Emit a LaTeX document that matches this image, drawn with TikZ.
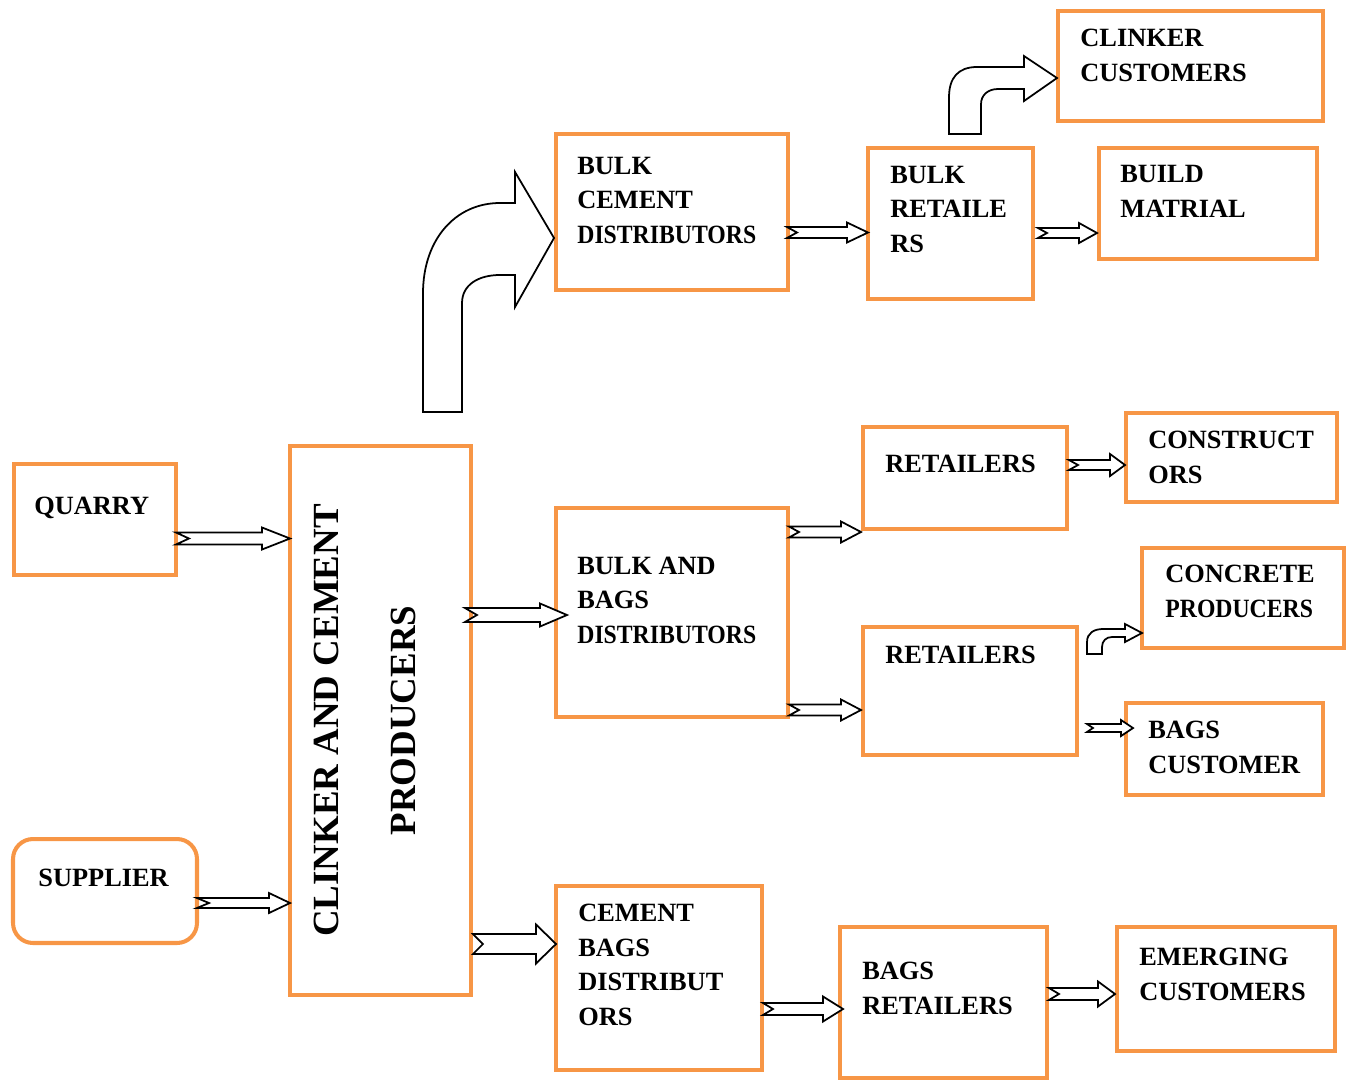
\documentclass[tikz,border=0pt]{standalone}
\usepackage{fontspec}
\usepackage{graphicx}
\setmainfont{Liberation Serif}
\usetikzlibrary{positioning,calc}
\definecolor{BoxOrange}{HTML}{F79646}
\newcommand{\pxu}{0.569pt}
\newcommand{\squeezed}[1]{\scalebox{0.9}[1]{#1}}
% notched block arrow: from, to, shaft half, head half, head length, notch (px)
\newcommand{\notcharrow}[6]{%
  \draw[blockarr] let \p1=(#1), \p2=(#2) in
    (\x1,\y1+#3*\pxu) -- (\x2-#5*\pxu,\y1+#3*\pxu) -- (\x2-#5*\pxu,\y1+#4*\pxu)
    -- (\x2,\y1) -- (\x2-#5*\pxu,\y1-#4*\pxu) -- (\x2-#5*\pxu,\y1-#3*\pxu)
    -- (\x1,\y1-#3*\pxu) -- (\x1+#6*\pxu,\y1) -- cycle;}

\begin{document}
\begin{tikzpicture}[x=0.02cm, y=-0.02cm,
  flowbox/.style={rectangle, draw=BoxOrange, line width=2.3pt, inner sep=0pt, outer sep=0pt},
  boxtext/.style={anchor=base west, inner sep=0pt, align=left,
    font=\fontsize{15}{19.6}\selectfont\bfseries},
  blockarr/.style={draw=black, fill=white, line width=1pt, line join=miter},
]
\useasboundingbox (0,0) rectangle (1348,1082);
% Inputs
\node[flowbox, minimum width=3.24cm, minimum height=2.22cm] (quarry) at (95,519.5) {};
\node[boxtext] (quarry-t) at ([shift={(20,50)}]quarry.north west) {QUARRY};
\node[flowbox, rounded corners=0.4cm, minimum width=3.68cm, minimum height=2.08cm] (supplier) at (105,891) {};
\node[boxtext] (supplier-t) at ([shift={(25,47)}]supplier.north west) {SUPPLIER};
% Producers
\node[flowbox, minimum width=3.62cm, minimum height=10.98cm] (prod) at (380.5,720.5) {};
\node[rotate=90, align=center, inner sep=0pt, font=\fontsize{21}{43.8}\selectfont\bfseries]
  (prod-t) at ([shift={(-16,0)}]prod.center) {CLINKER AND CEMENT\\PRODUCERS};
% Distributors
\node[flowbox, minimum width=4.64cm, minimum height=3.12cm] (bcd) at (672,212) {};
\node[boxtext] (bcd-t) at ([shift={(21,109)}]bcd.north west) {BULK\\CEMENT\\\squeezed{DISTRIBUTORS}};
\node[flowbox, minimum width=4.64cm, minimum height=4.18cm] (bbd) at (672,612.5) {};
\node[boxtext] (bbd-t) at ([shift={(21,135)}]bbd.north west) {BULK AND\\BAGS\\\squeezed{DISTRIBUTORS}};
\node[flowbox, minimum width=4.12cm, minimum height=3.68cm] (cbd) at (659,978) {};
\node[boxtext] (cbd-t) at ([shift={(22,139)}]cbd.north west) {CEMENT\\BAGS\\DISTRIBUT\\ORS};
% Retailers
\node[flowbox, minimum width=3.30cm, minimum height=3.02cm] (bret) at (950.5,223.5) {};
\node[boxtext] (bret-t) at ([shift={(22,104)}]bret.north west) {BULK\\RETAILE\\RS};
\node[flowbox, minimum width=4.08cm, minimum height=2.04cm] (ret1) at (965,478) {};
\node[boxtext] (ret1-t) at ([shift={(22,45)}]ret1.north west) {RETAILERS};
\node[flowbox, minimum width=4.28cm, minimum height=2.56cm] (ret2) at (970,691) {};
\node[boxtext] (ret2-t) at ([shift={(22,36)}]ret2.north west) {RETAILERS};
\node[flowbox, minimum width=4.14cm, minimum height=3.02cm] (bagr) at (943.5,1002.5) {};
\node[boxtext] (bagr-t) at ([shift={(22,87)}]bagr.north west) {BAGS\\RETAILERS};
% Customers
\node[flowbox, minimum width=5.30cm, minimum height=2.20cm] (clink) at (1190.5,66) {};
\node[boxtext] (clink-t) at ([shift={(22,70)}]clink.north west) {CLINKER\\CUSTOMERS};
\node[flowbox, minimum width=4.36cm, minimum height=2.22cm] (build) at (1208,203.5) {};
\node[boxtext] (build-t) at ([shift={(21,69)}]build.north west) {BUILD\\MATRIAL};
\node[flowbox, minimum width=4.22cm, minimum height=1.78cm] (constr) at (1231.5,457.5) {};
\node[boxtext] (constr-t) at ([shift={(22,70)}]constr.north west) {CONSTRUCT\\ORS};
\node[flowbox, minimum width=4.04cm, minimum height=2.00cm] (concr) at (1243,598) {};
\node[boxtext] (concr-t) at ([shift={(23,69)}]concr.north west) {CONCRETE\\\squeezed{PRODUCERS}};
\node[flowbox, minimum width=3.94cm, minimum height=1.84cm] (bagc) at (1224.5,749) {};
\node[boxtext] (bagc-t) at ([shift={(22,70)}]bagc.north west) {BAGS\\CUSTOMER};
\node[flowbox, minimum width=4.36cm, minimum height=2.48cm] (emerg) at (1226,989) {};
\node[boxtext] (emerg-t) at ([shift={(22,73)}]emerg.north west) {EMERGING\\CUSTOMERS};
% Straight arrows
\notcharrow{[shift={(0,19)}]quarry.east}{prod.west}{6}{11}{28}{13}
\notcharrow{[shift={(0,12)}]supplier.east}{prod.west}{5}{10}{21}{12}
\notcharrow{[shift={(-6,-105.5)}]prod.east}{[shift={(11,0)}]bbd.west}{7}{11.5}{27}{12}
\notcharrow{[shift={(2,223.5)}]prod.east}{cbd.west}{10}{19.5}{20}{10}
\notcharrow{[shift={(-1,20.5)}]bcd.east}{bret.west}{5.5}{10}{21}{10}
\notcharrow{[shift={(5,9.5)}]bret.east}{[shift={(-2,0)}]build.west}{5}{10}{18}{9}
\notcharrow{[shift={(1,-80.5)}]bbd.east}{[shift={(-2,0)}]ret1.west}{5.5}{10.5}{20}{10}
\notcharrow{[shift={(1,97.5)}]bbd.east}{[shift={(-2,0)}]ret2.west}{5.5}{10.5}{20}{10}
\notcharrow{[shift={(2,-13)}]ret1.east}{[shift={(-1,0)}]constr.west}{5}{11}{15}{9}
\notcharrow{[shift={(10,37)}]ret2.east}{[shift={(7,0)}]bagc.west}{4}{8}{12}{6}
\notcharrow{[shift={(1,31)}]cbd.east}{[shift={(3,0)}]bagr.west}{6}{12.5}{20}{10}
\notcharrow{[shift={(2,-8.5)}]bagr.east}{[shift={(-2,0)}]emerg.west}{6}{12.5}{17}{10}
% Bent arrows
\draw[blockarr, shift={(bcd.west)}] (-133,200) -- (-133,81)
  .. controls (-133,28) and (-101,-9) .. (-56,-9) -- (-41,-9) -- (-41,-40)
  -- (-2,26) -- (-41,95) -- (-41,63) -- (-56,63)
  .. controls (-78,63) and (-94,73) .. (-94,91) -- (-94,200) -- cycle;
\draw[blockarr, shift={(clink.west)}] (-109,68) -- (-109,31)
  .. controls (-109,12) and (-100,1) .. (-81,1) -- (-34,1) -- (-34,-10)
  -- (-1,12) -- (-34,35) -- (-34,23) -- (-60,23)
  .. controls (-70,23) and (-77,29) .. (-77,38) -- (-77,68) -- cycle;
\draw[blockarr, shift={(concr.west)}] (-55,56) -- (-55,44)
  .. controls (-55,35) and (-48,31) .. (-39,31) -- (-17,31) -- (-17,26)
  -- (0,35) -- (-17,44) -- (-17,39) -- (-30,39)
  .. controls (-36,39) and (-40,43) .. (-40,49) -- (-40,56) -- cycle;
\end{tikzpicture}
\end{document}
